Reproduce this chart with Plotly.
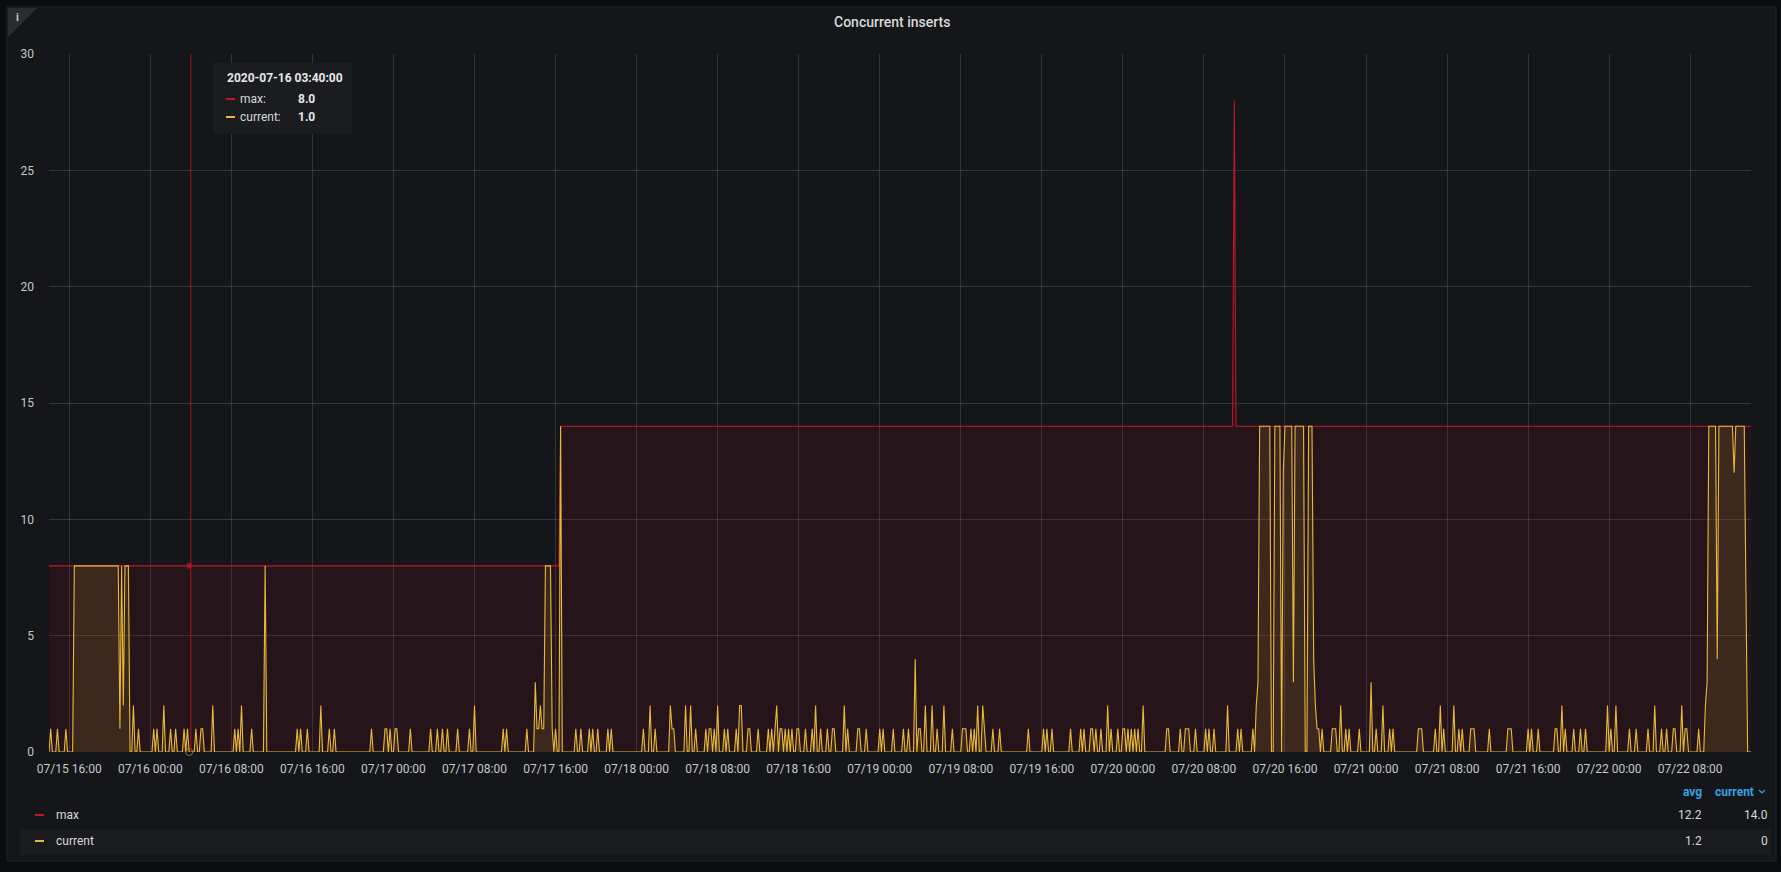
import pandas as pd
import plotly.graph_objects as go

# ---------------- data ----------------
START = "2020-07-15 14:00:00"
SAMPLE_FREQ = "10min"
N_SAMPLES = 1009

# "max" series: level changes (sample index, value) and isolated points
MAX_STEPS = [(0, 8), (303, 14)]
MAX_POINTS = [(702, 28)]

# "current" series: isolated non-zero samples (sample index, value); baseline is 0
CURRENT_POINTS = [
    (1, 1), (5, 1), (10, 1), (50, 2), (53, 1),
    (62, 1), (64, 1), (68, 2), (72, 1), (75, 1), (80, 1), (82, 1), (87, 1), (90, 1), (91, 1),
    (97, 2), (110, 1), (112, 1), (114, 2), (120, 1), (128, 8), (147, 1), (149, 1), (153, 1),
    (161, 2), (166, 1), (169, 1), (191, 1), (199, 1), (200, 1), (202, 1), (205, 1), (206, 1),
    (214, 1), (226, 1), (230, 1), (233, 1), (236, 1), (242, 1), (249, 1), (252, 2),
    (269, 1), (271, 1), (283, 1),
    (312, 1), (315, 1), (320, 1), (322, 1), (325, 1), (331, 1), (333, 1), (352, 1), (356, 2),
    (359, 1), (368, 2), (369, 1), (370, 1), (377, 2), (380, 2), (383, 1), (389, 1), (391, 1),
    (392, 1), (394, 1), (396, 2), (400, 1), (402, 1), (407, 1), (409, 2), (410, 2), (414, 1),
    (415, 1), (420, 1), (426, 1), (428, 1), (430, 1), (431, 2), (433, 1), (434, 1), (436, 1),
    (438, 1), (440, 1), (443, 1), (444, 1), (448, 1), (452, 1), (454, 2), (457, 1), (461, 1),
    (464, 1), (465, 1), (471, 2), (473, 1), (479, 1), (480, 1), (484, 1), (492, 1), (494, 1),
    (500, 1), (506, 1), (509, 1), (513, 4), (515, 1), (516, 1), (519, 2), (523, 2), (526, 1),
    (530, 2), (535, 1), (541, 1), (542, 1), (543, 1), (546, 1), (548, 1), (550, 2), (553, 2),
    (554, 1), (559, 1), (563, 1), (580, 1), (589, 1), (591, 1), (594, 1), (605, 1), (611, 1),
    (613, 1), (617, 1), (618, 1), (620, 1), (623, 1), (627, 2), (629, 1), (633, 1), (636, 1),
    (637, 1), (639, 1), (641, 1), (643, 1), (645, 1), (648, 2), (662, 1), (663, 1), (670, 1),
    (673, 1), (674, 1), (675, 1), (679, 1), (685, 1), (687, 1), (690, 1), (698, 2), (704, 1),
    (706, 1),
    (760, 1), (761, 1), (762, 1), (765, 2), (768, 1), (770, 1), (776, 1), (783, 3), (786, 1),
    (790, 2), (794, 1), (796, 1), (811, 1), (812, 1), (813, 1), (821, 1), (824, 2), (826, 1),
    (832, 2), (835, 1), (837, 1), (842, 1), (843, 1), (844, 1), (853, 1), (864, 1), (865, 1),
    (866, 1), (876, 1), (878, 1), (882, 1), (892, 1), (893, 1), (896, 2), (898, 1), (903, 1),
    (907, 1), (910, 1), (923, 2), (925, 1), (928, 2), (936, 1), (940, 1), (947, 1), (951, 2),
    (955, 1), (958, 1), (962, 1), (963, 1), (967, 2), (969, 1), (970, 1), (977, 1),
]
# "current" series: consecutive runs (first sample index, values)
CURRENT_RUNS = [
    (15, [8, 8, 8, 8, 8, 8, 8, 8, 8, 8, 8, 8, 8, 8, 8, 8, 8, 8, 8, 8, 8, 8, 8, 8, 8, 8, 8,
          1, 8, 2, 8, 8, 8]),
    (288, [3, 1, 1, 2, 1, 1, 8, 8, 8, 8, 1, 0, 1, 0, 0, 14]),
    (713, [1, 0, 2, 3, 14, 14, 14, 14, 14, 14, 14, 0, 0, 14, 14, 14, 14, 0, 12, 14, 14, 14,
           14, 14, 3, 14, 14, 14, 14, 14, 14, 0, 0, 14, 14, 14, 4, 2, 1, 1, 0, 1]),
    (981, [2, 3, 14, 14, 14, 14, 14, 4, 14, 14, 14, 14, 14, 14, 14, 14, 14, 12, 14, 14, 14,
           14, 14, 14, 7, 0, 0, 0]),
]

SERIES_NAMES = ["max", "current"]
SERIES_COLORS = ["#C4162A", "#EAB839"]
LEGEND_AVG = ["12.2", "1.2"]
LEGEND_CURRENT = ["14.0", "0"]
LEGEND_HEADERS = ["avg", "current"]

TITLE = "Concurrent inserts"
TOOLTIP_TIME = "2020-07-16 03:40:00"
TOOLTIP_VALUES = ["8.0", "1.0"]
HOVER_INDEX = 83
CROSSHAIR_TIME = "2020-07-16 04:00:00"

X_TICK0 = "2020-07-15 16:00:00"
X_TICK_HOURS = 8
Y_RANGE = [0, 30]
Y_DTICK = 5

# ---------------- build series ----------------
times = pd.date_range(START, periods=N_SAMPLES, freq=SAMPLE_FREQ)

max_vals = []
for i in range(N_SAMPLES):
    lvl = None
    for idx, v in MAX_STEPS:
        if i >= idx:
            lvl = v
    max_vals.append(lvl)
for idx, v in MAX_POINTS:
    max_vals[idx] = v

cur_vals = [0] * N_SAMPLES
for idx, v in CURRENT_POINTS:
    cur_vals[idx] = v
for start, vals in CURRENT_RUNS:
    for k, v in enumerate(vals):
        cur_vals[start + k] = v

# ---------------- layout geometry ----------------
W, H = 1781, 872
ML, MR, MT, MB = 49, 30, 54, 120
PW, PH = W - ML - MR, H - MT - MB


def px(x):
    return (x - ML) / PW


def py(y):
    return (H - MB - y) / PH


FONT = "Roboto"
TEXT = "#d8d9da"
TICK = "#c7c8ca"
BLUE = "#33a2e5"
GRID = "rgba(255,255,255,0.13)"

fig = go.Figure()

fills = ["rgba(196,22,42,0.10)", "rgba(234,184,57,0.12)"]
for name, vals, col, fc in zip(SERIES_NAMES, [max_vals, cur_vals], SERIES_COLORS, fills):
    fig.add_trace(go.Scatter(
        x=times, y=vals, name=name, mode="lines",
        line=dict(color=col, width=1.1), fill="tozeroy", fillcolor=fc,
        hoverinfo="skip",
    ))

# hover highlight points
fig.add_trace(go.Scatter(
    x=[times[HOVER_INDEX], times[HOVER_INDEX]],
    y=[max_vals[HOVER_INDEX], cur_vals[HOVER_INDEX]],
    mode="markers",
    marker=dict(size=[6, 7], symbol=["circle", "circle-open"],
                color=[SERIES_COLORS[0], "#b59a55"], line=dict(width=1, color=["#7a1019", "#b59a55"])),
    hoverinfo="skip", cliponaxis=False,
))

fig.update_xaxes(
    range=[times[0], times[-1]], type="date",
    tick0=X_TICK0, dtick=X_TICK_HOURS * 3600 * 1000, tickformat="%m/%d %H:%M",
    showgrid=True, gridcolor=GRID, gridwidth=1, zeroline=False, showline=False,
    ticks="", tickfont=dict(family=FONT, size=12, color=TICK), ticklabelstandoff=8,
)
fig.update_yaxes(
    range=Y_RANGE, dtick=Y_DTICK, showgrid=True, gridcolor=GRID, gridwidth=1,
    zeroline=False, showline=False, ticks="",
    tickfont=dict(family=FONT, size=12, color=TICK), ticklabelstandoff=14,
)

shapes = []
# panel background
shapes.append(dict(type="rect", xref="paper", yref="paper", layer="below",
                   x0=px(7), x1=px(1776), y0=py(7), y1=py(861),
                   fillcolor="#141619", line=dict(color="#202226", width=1)))
# info corner
shapes.append(dict(type="path", xref="paper", yref="paper", layer="below",
                   path=f"M {px(8)},{py(8)} L {px(37)},{py(8)} L {px(8)},{py(37)} Z",
                   fillcolor="#2a2c30", line=dict(width=0)))
# legend stripe for second row
shapes.append(dict(type="rect", xref="paper", yref="paper", layer="below",
                   x0=px(20), x1=px(1771), y0=py(829), y1=py(855),
                   fillcolor="#191b1e", line=dict(width=0)))
# crosshair
shapes.append(dict(type="line", xref="x", yref="paper", layer="above",
                   x0=CROSSHAIR_TIME, x1=CROSSHAIR_TIME, y0=0, y1=1,
                   line=dict(color="rgba(200,16,32,0.85)", width=1)))
# tooltip box
shapes.append(dict(type="rect", xref="paper", yref="paper", layer="above",
                   x0=px(213), x1=px(352), y0=py(63), y1=py(134),
                   fillcolor="#1b1c20", line=dict(width=0)))
# tooltip colour dashes
for yy, col in zip([99, 117], SERIES_COLORS):
    shapes.append(dict(type="line", xref="paper", yref="paper", layer="above",
                       x0=px(226), x1=px(235), y0=py(yy), y1=py(yy),
                       line=dict(color=col, width=2)))
# legend colour dashes
for yy, col in zip([815, 841], SERIES_COLORS):
    shapes.append(dict(type="line", xref="paper", yref="paper", layer="above",
                       x0=px(35), x1=px(44), y0=py(yy), y1=py(yy),
                       line=dict(color=col, width=2)))
# sort chevron
shapes.append(dict(type="path", xref="paper", yref="paper", layer="above",
                   path=f"M {px(1759)},{py(790)} L {px(1762)},{py(793)} L {px(1765)},{py(790)}",
                   line=dict(color=BLUE, width=1.2)))

ann = []


def text(x, y, s, size=12, color=TEXT, weight=400, xanchor="left"):
    ann.append(dict(xref="paper", yref="paper", x=px(x), y=py(y), text=s, showarrow=False,
                    xanchor=xanchor, yanchor="middle",
                    font=dict(family=FONT, size=size, color=color, weight=weight)))


text(892, 22, TITLE, size=14, weight=500, xanchor="center")
text(17, 17, "i", size=11, color="#c4c5c7", weight=700, xanchor="center")
# tooltip
text(225, 78, TOOLTIP_TIME, size=12, weight=700, color="#e6e7e8")
for yy, name, val in zip([99, 117], SERIES_NAMES, TOOLTIP_VALUES):
    text(238, yy, name + ":", size=12, color=TEXT)
    text(296, yy, val, size=12, weight=700, color="#e6e7e8")
# legend
text(1704, 792, LEGEND_HEADERS[0], size=12, color=BLUE, weight=700, xanchor="right")
text(1756, 792, LEGEND_HEADERS[1], size=12, color=BLUE, weight=700, xanchor="right")
for yy, name, a, c in zip([815, 841], SERIES_NAMES, LEGEND_AVG, LEGEND_CURRENT):
    text(54, yy, name, size=12, color=TEXT)
    text(1704, yy, a, size=12, color=TEXT, xanchor="right")
    text(1770, yy, c, size=12, color=TEXT, xanchor="right")

fig.update_layout(
    width=W, height=H, margin=dict(l=ML, r=MR, t=MT, b=MB, pad=0),
    paper_bgcolor="#0b0c0e", plot_bgcolor="rgba(0,0,0,0)",
    showlegend=False, hovermode=False,
    font=dict(family=FONT, size=12, color=TICK),
    shapes=shapes, annotations=ann,
)

fig.write_html("out.html", config={"displayModeBar": False})
